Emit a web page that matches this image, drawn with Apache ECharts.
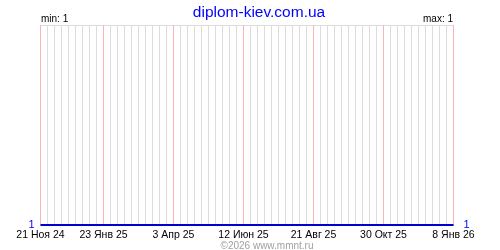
<!DOCTYPE html>
<html><head><meta charset="utf-8">
<script src="https://cdn.jsdelivr.net/npm/echarts@6/dist/echarts.min.js"></script>
<style>html,body{margin:0;padding:0;background:#fff}#c{width:500px;height:250px}</style>
</head><body><div id="c"></div>
<script>
const titleText = 'diplom-kiev.com.ua';
const startDate = '2024-11-21';
const endDate = '2026-01-08';
const seriesDates = ['2024-11-21', '2026-01-08'];
const seriesValues = [1, 1];
const tickDates = ['2024-11-21','2025-01-23','2025-04-03','2025-06-12','2025-08-21','2025-10-30','2026-01-08'];
const tickLabels = ['21 Ноя 24','23 Янв 25','3 Апр 25','12 Июн 25','21 Авг 25','30 Окт 25','8 Янв 26'];
const minText = 'min: 1';
const maxText = 'max: 1';
const copyright = '©2026 www.mmnt.ru';

const DAY = 86400000;
const WEEK = 7;
const Y_MIN = 1, Y_MAX = 2;
const PINK = '#ffb4b4';
function utc(s){ const p = s.split('-').map(Number); return Date.UTC(p[0],p[1]-1,p[2]); }
function dayOf(s){ return Math.round((utc(s) - utc(startDate))/DAY); }
const xMax = dayOf(endDate);
const tickDays = tickDates.map(dayOf);
const labelMap = {}; tickDays.forEach((d,i)=>labelMap[d]=tickLabels[i]);
const lineData = seriesDates.map((d,i)=>[dayOf(d), seriesValues[i]]);
const guideData = [];
tickDays.forEach(d => { guideData.push([d, Y_MIN], [d, Y_MAX], [d, '-']); });

const chart = echarts.init(document.getElementById('c'), null, {renderer:'canvas'});
const font = 'Liberation Sans, Arial, sans-serif';
chart.setOption({
  animation:false,
  backgroundColor:'#fff',
  grid:{left:40.5,right:46.5,top:25,bottom:25,containLabel:false},
  title:[
    {text:titleText,left:254,top:0,textAlign:'center',textStyle:{color:'#0000ff',fontSize:15.5,fontWeight:'normal',fontFamily:font}},
    {text:copyright,left:262,top:236,textAlign:'center',textStyle:{color:'#a0a0a0',fontSize:10,fontWeight:'normal',fontFamily:font}}
  ],
  xAxis:[
    {type:'value',min:0,max:xMax,interval:WEEK,
      axisLine:{show:false},axisTick:{show:false},
      splitLine:{show:true,lineStyle:{color:'#dcdcdc',width:1}},
      axisLabel:{show:true,margin:5,color:'#000',fontSize:10.5,fontFamily:font,showMinLabel:true,showMaxLabel:true,
        formatter:v=>labelMap[v]!==undefined?labelMap[v]:''}}
  ],
  yAxis:[
    {type:'value',min:Y_MIN,max:Y_MAX,interval:1,position:'left',
      axisLine:{show:false},axisTick:{show:false},
      splitLine:{show:true,lineStyle:{color:'#dcdcdc'}},
      axisLabel:{margin:6,color:'#0000ff',fontSize:11,fontFamily:font,formatter:v=>v===1?'1':''}},
    {type:'value',min:Y_MIN,max:Y_MAX,interval:1,position:'right',
      axisLine:{show:false},axisTick:{show:false},splitLine:{show:false},
      axisLabel:{margin:10,color:'#0000ff',fontSize:11,fontFamily:font,formatter:v=>v===1?'1':''}}
  ],
  series:[
    {type:'line',data:guideData,showSymbol:false,symbol:'none',silent:true,z:3,connectNulls:false,
      lineStyle:{color:PINK,width:1}},
    {type:'line',data:lineData,showSymbol:false,symbol:'none',z:5,
      lineStyle:{color:'#0000d0',width:2}}
  ]
});
// pink guides at labelled dates, positioned through the chart's own scales
const guides = tickDays.map(d => {
  const top = chart.convertToPixel({xAxisIndex:0, yAxisIndex:0}, [d, Y_MAX]);
  const bot = chart.convertToPixel({xAxisIndex:0, yAxisIndex:0}, [d, Y_MIN]);
  const x = Math.round(top[0] - 0.5) + 0.5;
  return {type:'line', z:3, silent:true, shape:{x1:x, y1:top[1], x2:x, y2:bot[1]}, style:{stroke:PINK, lineWidth:1}};
});
chart.setOption({graphic:[
  {type:'text',left:41,top:14,style:{text:minText,fill:'#000',font:'10px '+font}},
  {type:'text',right:47,top:14,style:{text:maxText,fill:'#000',font:'10px '+font}},
  ...guides
]});
</script></body></html>
